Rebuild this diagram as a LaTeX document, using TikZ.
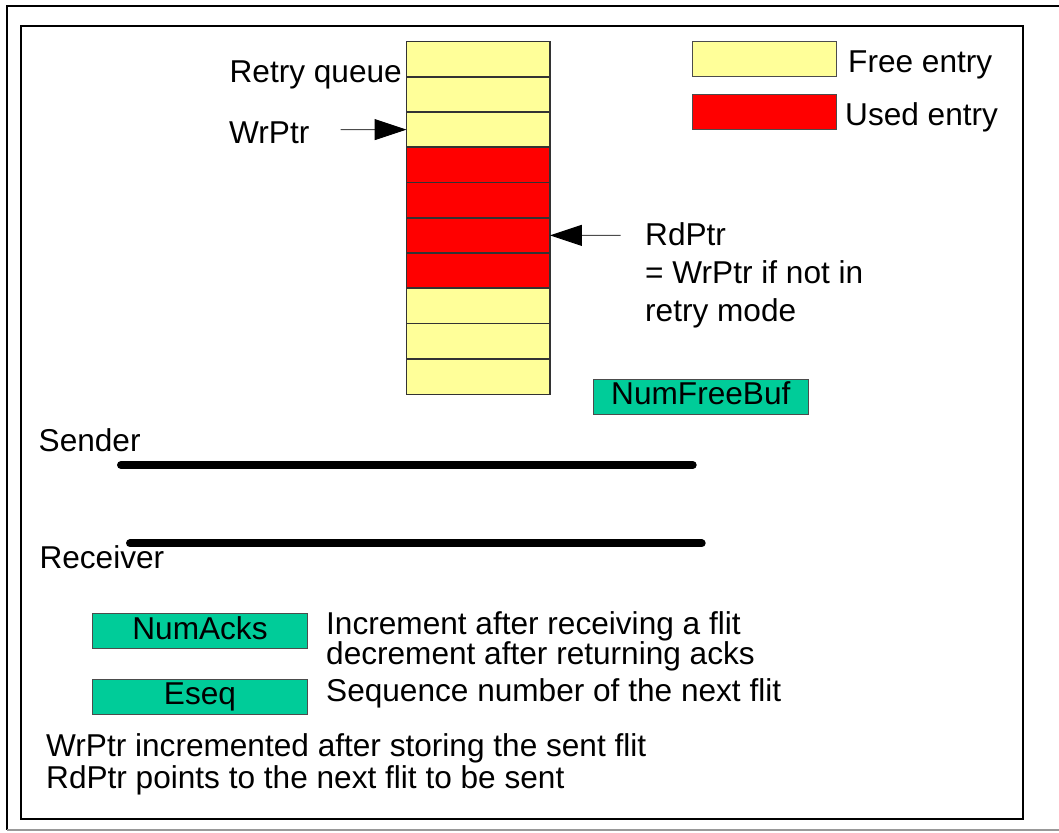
\documentclass[tikz,border=0pt]{standalone}
\usepackage{fontspec}
\setmainfont{Liberation Sans}
\usetikzlibrary{arrows.meta}
\definecolor{freeyellow}{HTML}{FFFF99}
\definecolor{usedred}{HTML}{FF0000}
\definecolor{regteal}{HTML}{00CC99}

\begin{document}
\begin{tikzpicture}[
x=1pt,y=-1pt,
every node/.style={font=\fontsize{31.6}{37}\selectfont},
lbl/.style={anchor=base west,inner sep=0},
cell/.style={minimum width=143pt,minimum height=35.25pt,inner sep=0},
cellline/.style={draw=black!80,line width=1.2pt},
legendbox/.style={draw=black!70,line width=1pt,minimum width=144pt,minimum height=35pt,inner sep=0},
reg/.style={draw=black!70,fill=regteal,line width=1pt,minimum width=215pt,minimum height=35pt,inner sep=0,text height=22pt,text depth=6pt},
ptr/.style={draw=black!70,line width=1pt,-{Triangle[length=32pt,width=21pt,color=black]}},
wire/.style={line width=8pt,line cap=round}
]
\useasboundingbox (0,0) rectangle (1059,832);
\draw[line width=1.3pt] (1059,6) -- (7,6) -- (7,830);
\draw[black!40,line width=1.3pt] (7,830) -- (1059,830);
\draw[line width=2pt] (21,26) rectangle (1023,819);

\foreach \i/\c in {1/freeyellow,2/freeyellow,3/freeyellow,4/usedred,5/usedred,6/usedred,7/usedred,8/freeyellow,9/freeyellow,10/freeyellow}
  \node[cell,fill=\c] (q\i) at (478.2,{41.5+35.25*(\i-0.5)}) {};
\foreach \i in {1,...,10}
  \draw[cellline] (q\i.north west) rectangle (q\i.south east);

\node[lbl,anchor=base east] (rqlabel) at (402,83) {Retry queue};
\node[lbl] (wrlabel) at (229,143) {WrPtr};
\coordinate (wrtail) at (340.7,129.6);
\draw[ptr] (wrtail) -- (q3.west);

\coordinate (rdtail) at (620.7,235.4);
\draw[ptr] (rdtail) -- (q6.east);
\node[lbl] (rdlabel) at (645,245) {RdPtr};
\node[lbl] (rdnote) at (645,283.3) {= WrPtr if not in};
\node[lbl] (rdnote2) at (645,321.7) {retry mode};

\node[legendbox,fill=freeyellow] (freekey) at (764.7,59.2) {};
\node[legendbox,fill=usedred] (usedkey) at (764.7,111.8) {};
\node[lbl] (freetext) at (848,72.7) {Free entry};
\node[lbl] (usedtext) at (845,125) {Used entry};

\node[reg] (numfreebuf) at (700.8,396.8) {NumFreeBuf};

\node[lbl] (sender) at (38.5,451.7) {Sender};
\coordinate (sendl) at (121,465);
\coordinate (sendr) at (692.7,465);
\draw[wire] (sendl) -- (sendr);
\node[lbl] (receiver) at (39.3,568.3) {Receiver};
\coordinate (recvl) at (130,543.3);
\coordinate (recvr) at (701.7,543.3);
\draw[wire] (recvl) -- (recvr);

\node[reg,minimum width=214.6pt] (numacks) at (200,631.2) {NumAcks};
\node[reg,minimum width=214.6pt] (eseq) at (200,696.7) {Eseq};
\node[lbl] (acksnote) at (326,634) {Increment after receiving a flit};
\node[lbl] (acksnote2) at (326,664) {decrement after returning acks};
\node[lbl] (eseqnote) at (326,701.7) {Sequence number of the next flit};

\node[lbl] (wrnote) at (46,756.7) {WrPtr incremented after storing the sent flit};
\node[lbl] (rdnote3) at (46,788.3) {RdPtr points to the next flit to be sent};
\end{tikzpicture}
\end{document}
